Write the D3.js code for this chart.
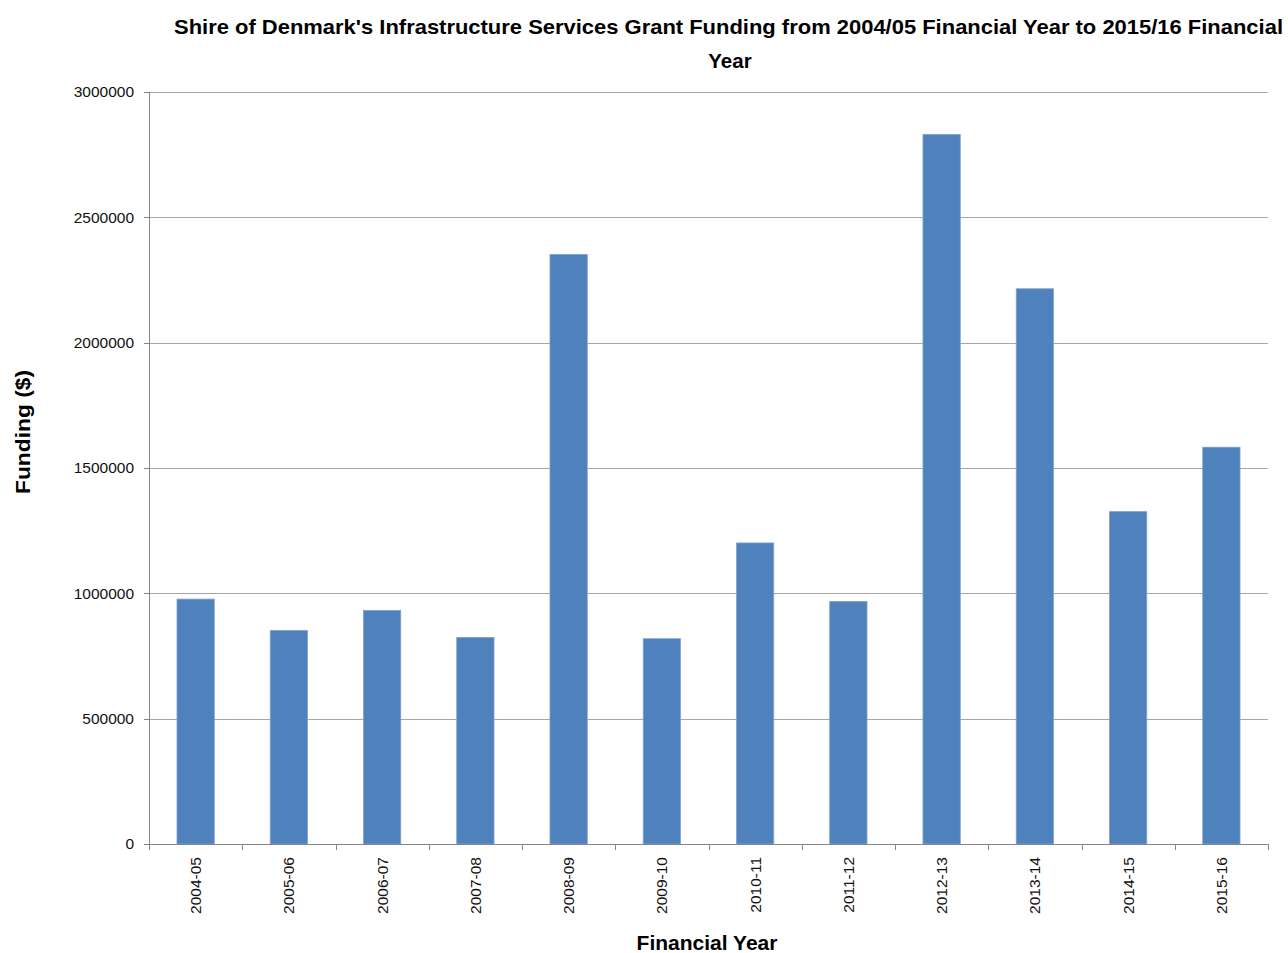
<!DOCTYPE html>
<html>
<head>
<meta charset="utf-8">
<script src="https://cdn.jsdelivr.net/npm/d3@7"></script>
<style>
  html, body { margin: 0; padding: 0; background: #ffffff; }
  svg { display: block; }
</style>
</head>
<body>
<script>
const categories = ["2004-05","2005-06","2006-07","2007-08","2008-09","2009-10","2010-11","2011-12","2012-13","2013-14","2014-15","2015-16"];
const funding = [977000, 852000, 932000, 824000, 2352000, 819000, 1201000, 968000, 2831000, 2215000, 1326000, 1583000];
const yTicks = [0, 500000, 1000000, 1500000, 2000000, 2500000, 3000000];
const titleLines = ["Shire of Denmark's Infrastructure Services Grant Funding from 2004/05 Financial Year to 2015/16 Financial", "Year"];
const xTitle = "Financial Year";
const yTitle = "Funding ($)";

const W = 1288, H = 953;
const plot = { left: 149, right: 1268, top: 92, bottom: 844 };
const FONT = "'Liberation Sans', Arial, sans-serif";
const axisColor = "#868686";
const gridColor = "#a6a6a6";

const svg = d3.select("body").append("svg").attr("width", W).attr("height", H);

const x = d3.scaleBand().domain(categories).range([plot.left, plot.right]).paddingInner(0.6).paddingOuter(0.3);
const y = d3.scaleLinear().domain([0, 3000000]).range([plot.bottom, plot.top]);

// gridlines
svg.append("g").selectAll("line").data(yTicks.filter(d => d > 0)).join("line")
  .attr("x1", plot.left).attr("x2", plot.right)
  .attr("y1", d => Math.round(y(d)) + 0.5).attr("y2", d => Math.round(y(d)) + 0.5)
  .attr("stroke", gridColor).attr("stroke-width", 1);

// bars
svg.append("g").selectAll("rect").data(categories).join("rect")
  .attr("x", d => x(d))
  .attr("width", x.bandwidth())
  .attr("y", (d, i) => y(funding[i]))
  .attr("height", (d, i) => y(0) - y(funding[i]))
  .attr("fill", "#4f81bd")
  .attr("stroke", "#7fa2cf").attr("stroke-width", 0.8);

// y axis
const yAxis = svg.append("g");
yAxis.append("line").attr("x1", plot.left + 0.5).attr("x2", plot.left + 0.5)
  .attr("y1", plot.top).attr("y2", plot.bottom + 6).attr("stroke", axisColor);
yAxis.selectAll("line.tick").data(yTicks).join("line").attr("class", "tick")
  .attr("x1", plot.left - 5).attr("x2", plot.left)
  .attr("y1", d => Math.round(y(d)) + 0.5).attr("y2", d => Math.round(y(d)) + 0.5)
  .attr("stroke", axisColor);
yAxis.selectAll("text").data(yTicks).join("text")
  .attr("x", 134).attr("y", d => y(d)).attr("dy", "0.35em")
  .attr("text-anchor", "end")
  .attr("font-family", FONT).attr("font-size", 15.5).attr("fill", "#111")
  .text(d => String(d));

// x axis
const xAxis = svg.append("g");
xAxis.append("line").attr("x1", plot.left).attr("x2", plot.right)
  .attr("y1", Math.round(y(0)) + 0.5).attr("y2", Math.round(y(0)) + 0.5).attr("stroke", axisColor);
const step = x.step();
const boundaries = d3.range(categories.length + 1).map(i => plot.left + i * step);
xAxis.selectAll("line.tick").data(boundaries).join("line").attr("class", "tick")
  .attr("x1", d => Math.round(d) + 0.5).attr("x2", d => Math.round(d) + 0.5)
  .attr("y1", plot.bottom).attr("y2", plot.bottom + 6).attr("stroke", axisColor);
xAxis.selectAll("text").data(categories).join("text")
  .attr("transform", d => `translate(${x(d) + x.bandwidth() / 2},${plot.bottom + 13}) rotate(-90)`)
  .attr("text-anchor", "end").attr("dy", "0.35em")
  .attr("font-family", FONT).attr("font-size", 15.5).attr("fill", "#111")
  .text(d => d);

// titles
svg.append("text").attr("x", 728.5).attr("y", 34).attr("text-anchor", "middle")
  .attr("font-family", FONT).attr("font-weight", "bold").attr("font-size", 20.5).attr("fill", "#000")
  .attr("textLength", 1109).attr("lengthAdjust", "spacingAndGlyphs")
  .text(titleLines[0]);
svg.append("text").attr("x", 730).attr("y", 68).attr("text-anchor", "middle")
  .attr("font-family", FONT).attr("font-weight", "bold").attr("font-size", 20.5).attr("fill", "#000")
  .text(titleLines[1]);

svg.append("text").attr("x", 707).attr("y", 950).attr("text-anchor", "middle")
  .attr("font-family", FONT).attr("font-weight", "bold").attr("font-size", 21).attr("fill", "#000")
  .text(xTitle);

svg.append("text").attr("transform", "translate(30,432) rotate(-90)").attr("text-anchor", "middle")
  .attr("font-family", FONT).attr("font-weight", "bold").attr("font-size", 21).attr("fill", "#000")
  .attr("textLength", 124).attr("lengthAdjust", "spacingAndGlyphs")
  .text(yTitle);
</script>
</body>
</html>
